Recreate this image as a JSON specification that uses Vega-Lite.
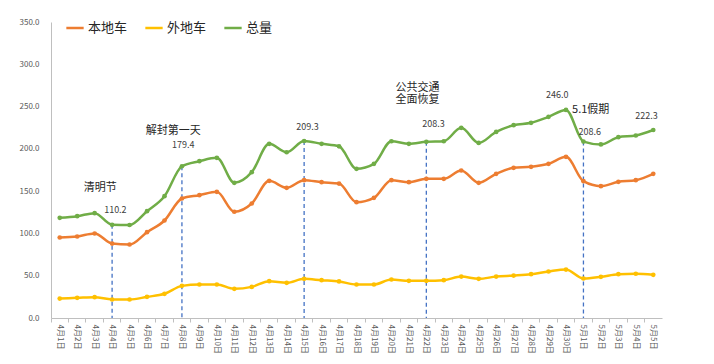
{
  "$schema": "https://vega.github.io/schema/vega-lite/v6.json",
  "width": 611,
  "height": 296,
  "autosize": {"type": "none"},
  "padding": {"left": 51, "top": 22, "right": 52, "bottom": 46},
  "background": "white",
  "config": {"view": {"stroke": null}, "font": "Noto Sans CJK SC"},
  "datasets": {
    "main": [
      {"date": "4月1日", "本地车": 95.2, "外地车": 23.0, "总量": 118.5},
      {"date": "4月2日", "本地车": 96.4, "外地车": 23.8, "总量": 120.4},
      {"date": "4月3日", "本地车": 99.9, "外地车": 24.6, "总量": 124.0},
      {"date": "4月4日", "本地车": 88.0, "外地车": 21.9, "总量": 110.2},
      {"date": "4月5日", "本地车": 86.9, "外地车": 21.9, "总量": 110.0},
      {"date": "4月6日", "本地车": 101.5, "外地车": 25.0, "总量": 126.3},
      {"date": "4月7日", "本地车": 115.3, "外地车": 28.6, "总量": 144.0},
      {"date": "4月8日", "本地车": 141.3, "外地车": 38.0, "总量": 179.4},
      {"date": "4月9日", "本地车": 145.2, "外地车": 39.6, "总量": 185.4},
      {"date": "4月10日", "本地车": 149.2, "外地车": 39.6, "总量": 189.4},
      {"date": "4月11日", "本地车": 125.6, "外地车": 34.5, "总量": 159.8},
      {"date": "4月12日", "本地车": 135.4, "外地车": 36.8, "总量": 172.4},
      {"date": "4月13日", "本地车": 162.2, "外地车": 43.5, "总量": 206.0},
      {"date": "4月14日", "本地车": 153.9, "外地车": 41.6, "总量": 196.0},
      {"date": "4月15日", "本地车": 163.0, "外地车": 46.3, "总量": 209.3},
      {"date": "4月16日", "本地车": 160.6, "外地车": 44.7, "总量": 206.0},
      {"date": "4月17日", "本地车": 159.0, "外地车": 43.2, "总量": 203.0},
      {"date": "4月18日", "本地车": 137.0, "外地车": 39.6, "总量": 176.4},
      {"date": "4月19日", "本地车": 142.1, "外地车": 39.6, "总量": 182.3},
      {"date": "4月20日", "本地车": 163.0, "外地车": 45.5, "总量": 209.0},
      {"date": "4月21日", "本地车": 160.6, "外地车": 44.0, "总量": 206.0},
      {"date": "4月22日", "本地车": 164.6, "外地车": 44.0, "总量": 208.3},
      {"date": "4月23日", "本地车": 164.6, "外地车": 44.7, "总量": 209.0},
      {"date": "4月24日", "本地车": 174.4, "外地车": 49.0, "总量": 224.9},
      {"date": "4月25日", "本地车": 159.8, "外地车": 46.3, "总量": 207.0},
      {"date": "4月26日", "本地车": 170.5, "外地车": 49.0, "总量": 220.0},
      {"date": "4月27日", "本地车": 177.6, "外地车": 50.2, "总量": 228.0},
      {"date": "4月28日", "本地车": 178.8, "外地车": 51.8, "总量": 230.8},
      {"date": "4月29日", "本地车": 182.3, "外地车": 55.0, "总量": 237.9},
      {"date": "4月30日", "本地车": 190.6, "外地车": 57.3, "总量": 246.0},
      {"date": "5月1日", "本地车": 161.8, "外地车": 46.7, "总量": 208.6},
      {"date": "5月2日", "本地车": 155.9, "外地车": 48.7, "总量": 205.2},
      {"date": "5月3日", "本地车": 161.0, "外地车": 51.8, "总量": 213.8},
      {"date": "5月4日", "本地车": 163.0, "外地车": 52.3, "总量": 215.8},
      {"date": "5月5日", "本地车": 170.5, "外地车": 51.0, "总量": 222.3}
    ],
    "marks": [
      {"date": "4月4日", "value": 110.2},
      {"date": "4月8日", "value": 179.4},
      {"date": "4月15日", "value": 209.3},
      {"date": "4月22日", "value": 208.3},
      {"date": "5月1日", "value": 208.6}
    ],
    "nums": [
      {"date": "4月4日", "value": 127.5, "text": "110.2", "dx": 12},
      {"date": "4月8日", "value": 204, "text": "179.4", "dx": 10},
      {"date": "4月15日", "value": 225.6, "text": "209.3", "dx": 12},
      {"date": "4月22日", "value": 229.6, "text": "208.3", "dx": 16},
      {"date": "4月30日", "value": 263.5, "text": "246.0", "dx": 0},
      {"date": "5月1日", "value": 219.7, "text": "208.6", "dx": 15},
      {"date": "5月5日", "value": 239.4, "text": "222.3", "dx": 2}
    ],
    "notes": [
      {"date": "4月4日", "value": 153.5, "text": "清明节", "dx": -3},
      {"date": "4月8日", "value": 221, "text": "解封第一天", "dx": 0},
      {"date": "4月22日", "value": 272.5, "text": "公共交通", "dx": 0},
      {"date": "4月22日", "value": 257.5, "text": "全面恢复", "dx": 0},
      {"date": "5月1日", "value": 246.5, "text": "5.1假期", "dx": 16}
    ]
  },
  "encoding": {
    "x": {
      "field": "date",
      "type": "ordinal",
      "scale": {
        "type": "band",
        "paddingInner": 0,
        "paddingOuter": 0,
        "domain": ["4月1日", "4月2日", "4月3日", "4月4日", "4月5日", "4月6日", "4月7日", "4月8日", "4月9日", "4月10日", "4月11日", "4月12日", "4月13日", "4月14日", "4月15日", "4月16日", "4月17日", "4月18日", "4月19日", "4月20日", "4月21日", "4月22日", "4月23日", "4月24日", "4月25日", "4月26日", "4月27日", "4月28日", "4月29日", "4月30日", "5月1日", "5月2日", "5月3日", "5月4日", "5月5日"]
      },
      "axis": {
        "title": null,
        "labelAngle": 90,
        "labelFontSize": 8,
        "labelColor": "#595959",
        "labelFont": "Noto Sans CJK SC",
        "domainColor": "#BFBFBF",
        "tickColor": "#BFBFBF",
        "tickSize": 4,
        "bandPosition": 0,
        "labelPadding": 2
      }
    }
  },
  "layer": [
    {
      "data": {"name": "marks"},
      "mark": {"type": "rule", "strokeDash": [4, 3], "color": "#4472C4", "strokeWidth": 1.3},
      "encoding": {
        "y": {"field": "value", "type": "quantitative"},
        "y2": {"datum": 0}
      }
    },
    {
      "data": {"name": "main"},
      "transform": [{"fold": ["本地车", "外地车", "总量"], "as": ["series", "val"]}],
      "encoding": {
        "y": {
          "field": "val",
          "type": "quantitative",
          "scale": {"domain": [0, 350], "nice": false},
          "axis": {
            "title": null,
            "values": [0, 50, 100, 150, 200, 250, 300, 350],
            "format": ".1f",
            "grid": false,
            "ticks": false,
            "labelFontSize": 8,
            "labelColor": "#595959",
            "domainColor": "#BFBFBF",
            "labelPadding": 12
          }
        },
        "color": {
          "field": "series",
          "type": "nominal",
          "scale": {"domain": ["本地车", "外地车", "总量"], "range": ["#ED7D31", "#FFC000", "#70AD47"]},
          "legend": {
            "title": null,
            "orient": "none",
            "legendX": 14,
            "legendY": -4,
            "direction": "horizontal",
            "symbolType": "stroke",
            "symbolStrokeWidth": 2.5,
            "symbolSize": 300,
            "labelFontSize": 13,
            "labelColor": "#262626",
            "columnPadding": 12,
            "labelOffset": 3
          }
        }
      },
      "layer": [
        {"mark": {"type": "line", "interpolate": "monotone", "strokeWidth": 2.5}},
        {"mark": {"type": "circle", "size": 22, "opacity": 1}}
      ]
    },
    {
      "data": {"name": "nums"},
      "mark": {"type": "text", "fontSize": 9, "color": "#404040"},
      "encoding": {
        "y": {"field": "value", "type": "quantitative"},
        "text": {"field": "text"},
        "xOffset": {"field": "dx", "type": "quantitative", "scale": null}
      }
    },
    {
      "data": {"name": "notes"},
      "mark": {"type": "text", "fontSize": 11, "color": "#262626"},
      "encoding": {
        "y": {"field": "value", "type": "quantitative"},
        "text": {"field": "text"},
        "xOffset": {"field": "dx", "type": "quantitative", "scale": null}
      }
    }
  ]
}
